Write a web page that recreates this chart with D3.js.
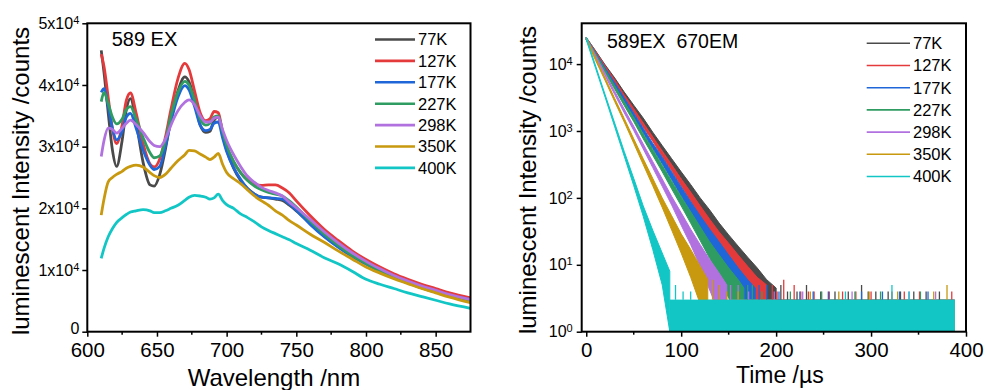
<!DOCTYPE html>
<html>
<head>
<meta charset="utf-8">
<script src="https://cdn.jsdelivr.net/npm/d3@7"></script>
<style>
  body { margin: 0; background: #fff; }
  svg { display: block; font-family: "Liberation Sans", Arial, sans-serif; }
</style>
</head>
<body>
<div id="chart"></div>
<script>
// ---- Data ----
const temps = ["77K", "127K", "177K", "227K", "298K", "350K", "400K"];
const colors = ["#4a4a4a", "#e53a3c", "#1f67d8", "#2f9d62", "#b172e0", "#c8980e", "#13c6c6"];

// emission spectra, 589 nm excitation
const wavelengths = [610, 612, 615, 618, 621, 625, 628, 631, 635, 640, 645, 648, 652, 656, 660, 665,
    670, 673, 677, 681, 685, 688, 691, 694, 697, 700, 705, 710, 715, 720, 725, 730, 735, 740, 745, 750,
    760, 770, 780, 790, 800, 810, 820, 830, 840, 850, 860, 875];
const em77K = [45600, 42000, 35500, 29500, 26800, 31000, 36000, 37800, 34000, 27500, 23800, 23600, 25500, 29500, 34500, 39000,
    41300, 40500, 37500, 33500, 32300, 32500, 34300, 34800, 32000, 29500, 26500, 24500, 23200, 22300, 21800, 21700, 21500, 21300, 20500, 19600,
    17500, 15500, 13800, 12300, 11000, 9800, 8800, 7900, 7100, 6400, 5800, 5000];
const em127K = [45000, 43000, 38000, 33000, 30500, 33500, 37500, 38700, 35500, 30500, 27200, 26700, 28000, 31500, 36000, 41000,
    43500, 42500, 39000, 35500, 34200, 34500, 35700, 35500, 32500, 30000, 27500, 25800, 24600, 23900, 23700, 23800, 23800, 23300, 22500, 21200,
    18800, 16600, 14800, 13100, 11700, 10500, 9400, 8500, 7700, 7000, 6300, 5500];
const em177K = [38800, 39400, 36500, 33000, 31100, 32500, 34800, 35400, 33000, 29500, 27000, 26300, 26800, 30000, 34000, 38000,
    39900, 39200, 36500, 33500, 32600, 32800, 33800, 34000, 31500, 29200, 26600, 24700, 23200, 22300, 21800, 21700, 21600, 21500, 20700, 19700,
    17400, 15400, 13700, 12200, 11000, 9800, 8800, 8000, 7200, 6500, 5900, 5200];
const em227K = [37300, 38800, 37000, 34800, 33700, 34500, 36000, 36500, 34500, 31500, 29000, 28200, 28500, 31000, 35000, 38800,
    40600, 40000, 37500, 34500, 33500, 33800, 34800, 35000, 32500, 30200, 27600, 25800, 24500, 23600, 23000, 22600, 22300, 22000, 21200, 20200,
    17900, 15800, 14000, 12400, 11100, 9900, 8900, 8000, 7200, 6500, 5900, 5100];
const em298K = [28400, 31000, 33000, 32800, 32200, 33000, 33800, 34300, 33600, 32300, 30800, 30200, 30000, 31200, 33500, 35800,
    37200, 37600, 36800, 35000, 34000, 34000, 34600, 34800, 32800, 31000, 28700, 26800, 25200, 24200, 23400, 22900, 22500, 22000, 21000, 20100,
    18200, 16200, 14400, 12800, 11400, 10200, 9100, 8200, 7400, 6700, 6000, 5200];
const em350K = [18900, 21500, 24300, 25000, 25500, 26000, 26500, 26800, 27000, 26700, 25800, 25300, 25000, 25500, 26500, 27700,
    28700, 29400, 29300, 28800, 28300, 27900, 28300, 28900, 27200, 25800, 24800, 24000, 23000, 22000, 21200, 20500, 19600, 18900, 18000, 17300,
    15800, 14500, 13100, 11800, 10500, 9500, 8600, 7800, 7000, 6300, 5600, 4700];
const em400K = [11900, 13500, 15400, 16700, 17700, 18500, 19000, 19400, 19600, 19800, 19600, 19300, 19300, 19600, 20000, 20500,
    21300, 21800, 22100, 22000, 21800, 21500, 21700, 22300, 21300, 20600, 20000, 19100, 18500, 17800, 17000, 16400, 15900, 15400, 14900, 14300,
    13200, 12000, 11000, 9800, 8500, 7700, 7000, 6300, 5700, 5100, 4500, 3800];
const spectra = [em77K, em127K, em177K, em227K, em298K, em350K, em400K];

// decay curves (589EX 670EM): [time µs, lower edge, upper edge] of the noisy trace
const decay77K = [[0, 23000, 25000], [10, 14500, 15700], [20, 8900, 9700], [30, 5600, 6200], [40, 3450, 3820],
    [50, 2150, 2430], [60, 1350, 1560], [70, 830, 960], [80, 515, 605], [90, 315, 385], [100, 195, 245],
    [110, 120, 158], [120, 72, 100], [130, 44, 66], [140, 26, 42], [150, 15, 28], [160, 9, 19], [170, 5, 13],
    [180, 3, 9], [190, 1.8, 6], [200, 1, 4.5]];
const decay127K = [[0, 23000, 25000], [10, 14200, 15400], [20, 8500, 9300], [30, 5200, 5800], [40, 3120, 3480],
    [50, 1910, 2170], [60, 1150, 1310], [70, 705, 820], [80, 415, 500], [90, 255, 312], [100, 150, 192],
    [110, 90, 122], [120, 53, 76], [130, 31, 48], [140, 18, 31], [150, 10, 21], [160, 5.5, 14], [170, 3.2, 9.5],
    [180, 1.8, 6.5], [190, 1, 5]];
const decay177K = [[0, 23000, 25000], [10, 13500, 14700], [20, 7900, 8700], [30, 4720, 5280], [40, 2760, 3140],
    [50, 1620, 1860], [60, 940, 1100], [70, 550, 655], [80, 325, 405], [90, 187, 244], [100, 108, 146],
    [110, 62, 88], [120, 35, 54], [130, 20, 34], [140, 11, 22], [150, 6, 14], [160, 3.2, 9], [170, 1.7, 6],
    [178, 1, 4.5]];
const decay227K = [[0, 23000, 25000], [10, 13200, 14400], [20, 7450, 8150], [30, 4220, 4720], [40, 2400, 2740],
    [50, 1380, 1590], [60, 765, 900], [70, 435, 530], [80, 246, 308], [90, 136, 177], [100, 76, 104],
    [110, 42, 62], [120, 23, 37], [130, 12.5, 22], [140, 6.5, 14], [150, 3.2, 9], [160, 1.6, 6], [166, 1, 4.5]];
const decay298K = [[0, 23000, 25000], [10, 12350, 13450], [20, 6600, 7200], [30, 3500, 3900], [40, 1870, 2130],
    [50, 1020, 1180], [60, 540, 640], [70, 284, 350], [80, 149, 192], [90, 78, 105], [100, 39, 60],
    [110, 20, 34], [120, 9.5, 20], [130, 4.2, 12], [140, 1.9, 7.5], [148, 1, 5]];
const decay350K = [[0, 23000, 25000], [10, 11200, 12200], [20, 5620, 6180], [30, 2740, 3060], [40, 1360, 1540],
    [50, 655, 765], [60, 315, 385], [70, 152, 196], [80, 72, 100], [90, 33, 54], [100, 15, 29],
    [110, 6.5, 17], [120, 2.6, 9.5], [128, 1, 6]];
const decay400K = [[0, 23000, 25000], [10, 8500, 9300], [20, 3150, 3450], [30, 1150, 1310], [40, 420, 495],
    [50, 152, 196], [60, 53, 76], [70, 17, 33], [80, 5, 15], [88, 1, 8]];
const decays = [decay77K, decay127K, decay177K, decay227K, decay298K, decay350K, decay400K];

// background counts after the decay: floor band and single spikes [series, time, counts]
const floorLow = 1, floorHigh = 3, floorEnd = 388;
const tailSpikes = [
    [0, 205, 5], [0, 212, 4], [0, 222, 4], [0, 232, 5], [0, 247, 4], [0, 262, 4], [0, 276, 4], [0, 290, 5], [0, 297, 4],
    [0, 305, 4], [0, 318, 4], [0, 331, 4], [0, 345, 4], [0, 358, 4], [0, 372, 4],
    [1, 196, 5], [1, 201, 4], [1, 208, 6], [1, 219, 5], [1, 226, 4], [1, 234, 4], [1, 240, 4], [1, 256, 4], [1, 270, 4],
    [1, 284, 4], [1, 300, 4], [1, 322, 4], [1, 335, 4], [1, 351, 4], [1, 385, 4],
    [2, 182, 5], [2, 190, 5], [2, 203, 4], [2, 225, 4], [2, 239, 4], [2, 255, 4], [2, 290, 4], [2, 312, 4], [2, 330, 4], [2, 360, 4],
    [3, 170, 5], [3, 175, 5], [3, 185, 4], [3, 215, 4], [3, 248, 4], [3, 283, 4], [3, 310, 4], [3, 352, 4],
    [4, 152, 5], [4, 160, 5], [4, 171, 4], [4, 198, 4], [4, 228, 4], [4, 280, 4], [4, 340, 4], [4, 368, 4],
    [5, 133, 6], [5, 140, 5], [5, 148, 4], [5, 160, 4], [5, 236, 4], [5, 266, 4], [5, 298, 4], [5, 328, 4], [5, 366, 4], [5, 380, 5],
    [6, 94, 5], [6, 102, 4], [6, 110, 4], [6, 273, 4], [6, 322, 5], [6, 340, 4]
];

// ticks
const specTicks = [600, 650, 700, 750, 800, 850];
const specMinor = [625, 675, 725, 775, 825];
const specYTicks = [0, 10000, 20000, 30000, 40000, 50000];
const timeTicks = [0, 100, 200, 300, 400];
const timeMinor = [50, 150, 250, 350];
const decayYTicks = [1, 10, 100, 1000, 10000];

// ---- Layout ----
const config = {
    width: 986,
    height: 390,
    top: 23.3,
    bottom: 331.7,
    left: { x0: 87.3, x1: 470.5 },
    right: { x0: 581.7, x1: 966 },
    tickFont: 20.5,
    yTickFont: 16,
    titleFont: 24,
    legendFont: 16.5
};

const svg = d3.select("#chart")
    .append("svg")
    .attr("width", config.width)
    .attr("height", config.height);

// Scales
const xSpec = d3.scaleLinear().domain([600, 875]).range([config.left.x0, config.left.x1]);
const ySpec = d3.scaleLinear().domain([0, 50000]).range([config.bottom, config.top]);
const xTime = d3.scaleLinear().domain([-4.8, 400]).range([config.right.x0, config.right.x1]);
const yTime = d3.scaleLog().domain([1, 40700]).range([config.bottom, config.top]);

// clip paths
const defs = svg.append("defs");
[["clipL", config.left], ["clipR", config.right]].forEach(([id, p]) => {
    defs.append("clipPath").attr("id", id)
        .append("rect")
        .attr("x", p.x0).attr("y", config.top)
        .attr("width", p.x1 - p.x0).attr("height", config.bottom - config.top);
});

// ---- Left panel: spectra ----
const specLine = d3.line()
    .x((d, i) => xSpec(wavelengths[i]))
    .y(d => ySpec(d))
    .curve(d3.curveMonotoneX);

const gL = svg.append("g").attr("clip-path", "url(#clipL)");
spectra.forEach((s, i) => {
    gL.append("path")
        .datum(s)
        .attr("d", specLine)
        .attr("fill", "none")
        .attr("stroke", colors[i])
        .attr("stroke-width", 2.8)
        .attr("stroke-linejoin", "round");
});

// ---- Right panel: decays ----
const decayArea = d3.area()
    .x(d => xTime(d[0]))
    .y0(d => yTime(d[1]))
    .y1(d => yTime(d[2]));

const gR = svg.append("g").attr("clip-path", "url(#clipR)");
decays.forEach((s, i) => {
    const tEnd = s[s.length - 1][0];
    gR.append("path")
        .datum(s)
        .attr("d", decayArea)
        .attr("fill", colors[i])
        .attr("stroke", colors[i])
        .attr("stroke-width", 1);
    // floor (background noise)
    gR.append("rect")
        .attr("x", xTime(tEnd))
        .attr("y", yTime(floorHigh))
        .attr("width", xTime(floorEnd) - xTime(tEnd))
        .attr("height", yTime(floorLow) - yTime(floorHigh))
        .attr("fill", colors[i]);
});
// spikes above the floor
gR.selectAll(".spike")
    .data(tailSpikes)
    .enter()
    .append("line")
    .attr("class", "spike")
    .attr("x1", d => xTime(d[1]))
    .attr("x2", d => xTime(d[1]))
    .attr("y1", yTime(floorHigh))
    .attr("y2", d => yTime(d[2]))
    .attr("stroke", d => colors[d[0]])
    .attr("stroke-width", 1.3);
// cyan floor is drawn last, so it covers the others
const last = decays[6];
gR.append("rect")
    .attr("x", xTime(last[last.length - 1][0]))
    .attr("y", yTime(floorHigh))
    .attr("width", xTime(floorEnd) - xTime(last[last.length - 1][0]))
    .attr("height", yTime(floorLow) - yTime(floorHigh))
    .attr("fill", colors[6]);

// ---- Axes ----
function styleAxis(g) {
    g.select(".domain").remove();
    g.selectAll(".tick line").attr("stroke", "#000").attr("stroke-width", 1.5);
    g.selectAll(".tick text").attr("fill", "#000");
}

// bottom axes
function bottomAxis(scale, ticks, minor) {
    const g = svg.append("g").attr("transform", `translate(0, ${config.bottom})`);
    g.call(d3.axisBottom(scale).tickValues(ticks).tickSize(5).tickPadding(6).tickFormat(d3.format("d")))
        .call(styleAxis);
    g.selectAll(".tick text").style("font-size", config.tickFont + "px");
    g.selectAll(".minor")
        .data(minor)
        .enter()
        .append("line")
        .attr("class", "minor")
        .attr("x1", d => scale(d)).attr("x2", d => scale(d))
        .attr("y1", 0).attr("y2", 3)
        .attr("stroke", "#000").attr("stroke-width", 1.5);
}
bottomAxis(xSpec, specTicks, specMinor);
bottomAxis(xTime, timeTicks, timeMinor);

// left axis (linear, a x 10^4 labels)
const yL = svg.append("g").attr("transform", `translate(${config.left.x0}, 0)`);
yL.call(d3.axisLeft(ySpec).tickValues(specYTicks).tickSize(5).tickPadding(3))
    .call(styleAxis);
yL.selectAll(".tick text")
    .style("font-size", config.yTickFont + "px")
    .each(function(d) {
        const t = d3.select(this).text("");
        if (d === 0) { t.text("0").attr("dy", "0.1em"); return; }
        t.append("tspan").text(`${d / 10000}x10`);
        t.append("tspan").attr("dy", "-0.45em").style("font-size", "11px").text("4");
    });

// right axis (log)
const yR = svg.append("g").attr("transform", `translate(${config.right.x0}, 0)`);
yR.call(d3.axisLeft(yTime).tickValues(decayYTicks).tickSize(5).tickPadding(4))
    .call(styleAxis);
yR.selectAll(".tick text")
    .style("font-size", config.yTickFont + "px")
    .each(function(d) {
        const t = d3.select(this).text("");
        t.append("tspan").text("10");
        t.append("tspan").attr("dy", "-0.45em").style("font-size", "11px").text(Math.round(Math.log10(d)));
    });

// frames
[config.left, config.right].forEach(p => {
    svg.append("rect")
        .attr("x", p.x0).attr("y", config.top)
        .attr("width", p.x1 - p.x0).attr("height", config.bottom - config.top)
        .attr("fill", "none").attr("stroke", "#000").attr("stroke-width", 2);
});

// ---- Titles ----
svg.append("text")
    .attr("x", (config.left.x0 + config.left.x1) / 2 - 5)
    .attr("y", 386)
    .attr("text-anchor", "middle")
    .style("font-size", config.titleFont + "px")
    .text("Wavelength /nm");

svg.append("text")
    .attr("x", (config.right.x0 + config.right.x1) / 2 + 6)
    .attr("y", 383)
    .attr("text-anchor", "middle")
    .style("font-size", "23px")
    .text("Time /\u00b5s");

svg.append("text")
    .attr("transform", "translate(29, 181) rotate(-90)")
    .attr("text-anchor", "middle")
    .style("font-size", config.titleFont + "px")
    .text("luminescent Intensity /counts");

svg.append("text")
    .attr("transform", "translate(536, 180) rotate(-90)")
    .attr("text-anchor", "middle")
    .style("font-size", config.titleFont + "px")
    .text("luminescent Intensity /counts");

// panel notes
svg.append("text")
    .attr("x", 111.7).attr("y", 46)
    .style("font-size", "20px")
    .text("589 EX");

svg.append("text")
    .attr("x", 607).attr("y", 48.3)
    .style("font-size", "19.5px")
    .style("white-space", "pre")
    .text("589EX  670EM");

// ---- Legends ----
function legend(x0, x1, yStart, step, width) {
    const g = svg.append("g");
    temps.forEach((name, i) => {
        const y = yStart + i * step;
        g.append("line")
            .attr("x1", x0).attr("x2", x1)
            .attr("y1", y).attr("y2", y)
            .attr("stroke", colors[i]).attr("stroke-width", width);
        g.append("text")
            .attr("x", x1 + 3).attr("y", y)
            .attr("dy", "0.36em")
            .style("font-size", config.legendFont + "px")
            .text(name);
    });
}
legend(375, 415, 39.5, 21.4, 2.6);
legend(866.7, 910, 43.3, 22.2, 1.6);
</script>
</body>
</html>
